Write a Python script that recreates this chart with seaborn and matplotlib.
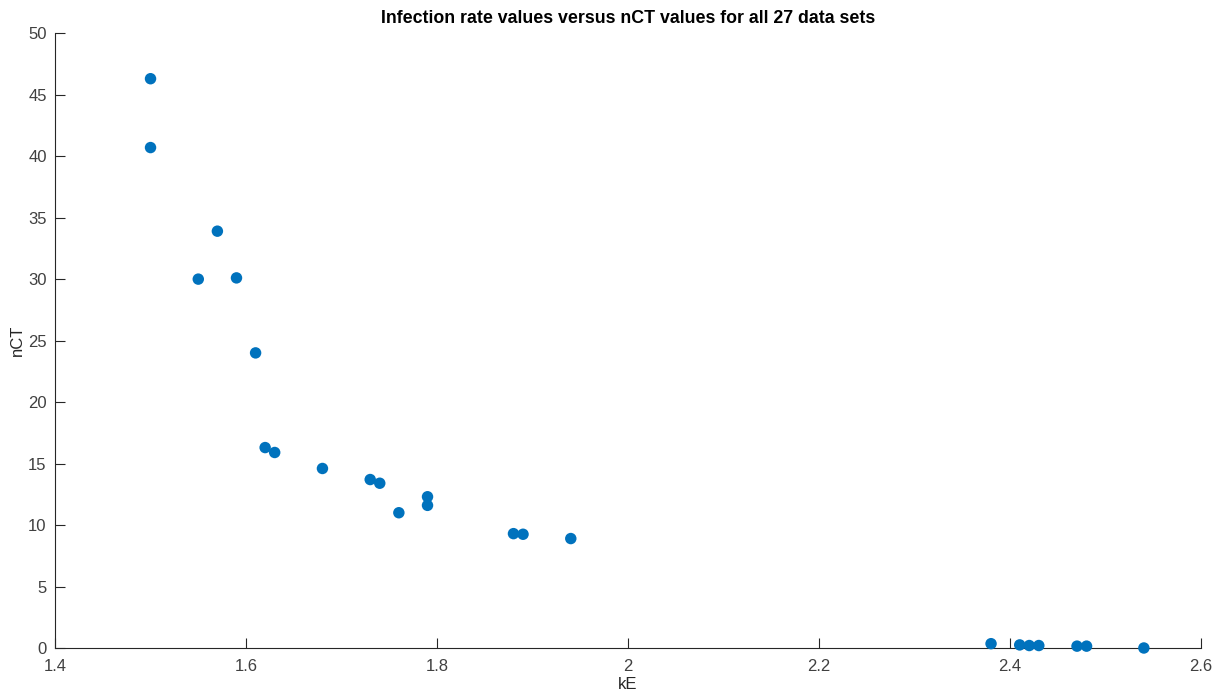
import numpy as np
import pandas as pd
import seaborn as sns
import matplotlib
matplotlib.use('Agg')
import matplotlib.pyplot as plt

# values
kE = [1.50, 1.50, 1.57, 1.55, 1.59, 1.61, 1.62, 1.63, 1.68, 1.73, 1.74, 1.76,
      1.79, 1.79, 1.88, 1.89, 1.94, 2.38, 2.41, 2.42, 2.43, 2.47, 2.48, 2.54]
nCT = [46.3, 40.7, 33.9, 30.0, 30.1, 24.0, 16.3, 15.9, 14.6, 13.7, 13.4, 11.0,
       12.3, 11.6, 9.3, 9.25, 8.9, 0.35, 0.25, 0.2, 0.2, 0.15, 0.15, 0.0]
xticks = [1.4, 1.6, 1.8, 2.0, 2.2, 2.4, 2.6]
xticklabels = ['1.4', '1.6', '1.8', '2', '2.2', '2.4', '2.6']
yticks = [0, 5, 10, 15, 20, 25, 30, 35, 40, 45, 50]


def myplot():
	sns.set_style("ticks")
	plt.rcParams['font.family'] = ['Liberation Sans', 'DejaVu Sans']
	df = pd.DataFrame({'kE': kE, 'nCT': nCT})

	fig = plt.figure(figsize=(12.17, 6.92), dpi=100)
	ax = fig.add_axes([0.0452, 0.0636, 0.9418, 0.8884])
	sns.scatterplot(x='kE', y='nCT', data=df, ax=ax, color='#0072BD',
					s=68, edgecolor='none', clip_on=False, zorder=3)

	ax.set_xlim(1.4, 2.6)
	ax.set_ylim(0, 50)
	ax.set_xticks(xticks)
	ax.set_xticklabels(xticklabels)
	ax.set_yticks(yticks)
	ax.tick_params(direction='in', length=7.5, width=0.8, colors='#262626',
				   labelsize=12, labelcolor='#404040')
	ax.tick_params(axis='x', pad=8)
	ax.tick_params(axis='y', pad=6)
	for side in ['top', 'right']:
		ax.spines[side].set_visible(False)
	for side in ['left', 'bottom']:
		ax.spines[side].set_color('#262626')
		ax.spines[side].set_linewidth(0.8)

	ax.set_xlabel('kE', fontsize=12, color='#262626', labelpad=2)
	ax.set_ylabel('nCT', fontsize=12, color='#262626', labelpad=2)
	ax.set_title('Infection rate values versus nCT values for all 27 data sets',
				 fontsize=12.8, fontweight='bold', color='black', pad=7)

	plt.savefig('out.png', dpi=100)


myplot()
